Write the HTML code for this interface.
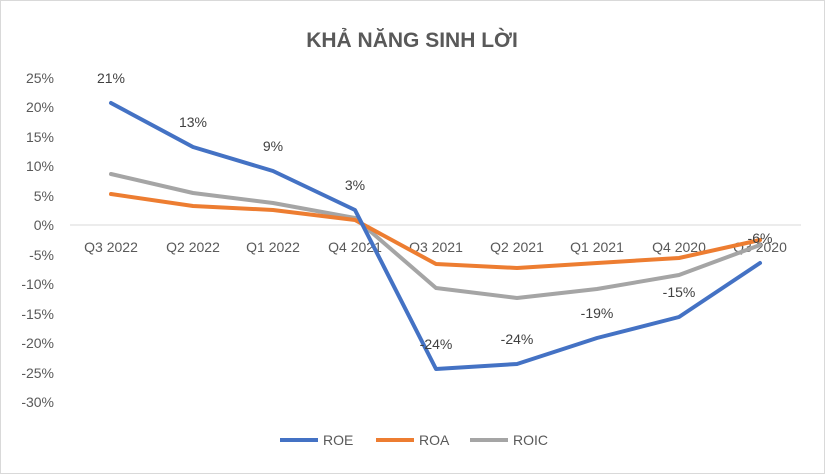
<!DOCTYPE html>
<html><head><meta charset="utf-8"><style>
body{margin:0;background:#fff}
svg{display:block;font-family:"Liberation Sans",Arial,sans-serif}
</style></head><body>
<svg width="825" height="474" viewBox="0 0 825 474" xmlns="http://www.w3.org/2000/svg">
<rect x="0.5" y="0.5" width="824" height="473" fill="#fff" stroke="#d9d9d9"/>
<text x="412" y="47" text-anchor="middle" font-size="21" font-weight="bold" fill="#595959">KHẢ NĂNG SINH LỜI</text>
<g font-size="14" fill="#595959" text-anchor="end">
<text x="54" y="83">25%</text><text x="54" y="112">20%</text><text x="54" y="142">15%</text><text x="54" y="171">10%</text><text x="54" y="201">5%</text><text x="54" y="230">0%</text><text x="54" y="260">-5%</text><text x="54" y="289">-10%</text><text x="54" y="319">-15%</text><text x="54" y="348">-20%</text><text x="54" y="378">-25%</text><text x="54" y="407">-30%</text>
</g>
<line x1="70" y1="225" x2="801" y2="225" stroke="#d9d9d9"/>
<g font-size="14" fill="#595959" text-anchor="middle">
<text x="111" y="252">Q3 2022</text><text x="193" y="252">Q2 2022</text><text x="273" y="252">Q1 2022</text><text x="355" y="252">Q4 2021</text><text x="436" y="252">Q3 2021</text><text x="517" y="252">Q2 2021</text><text x="597" y="252">Q1 2021</text><text x="679" y="252">Q4 2020</text><text x="760" y="252">Q3 2020</text>
</g>
<g fill="none" stroke-width="4" stroke-linejoin="round" stroke-linecap="round">
<polyline stroke="#a5a5a5" points="111,174 193,193 273,203 355,218 436,288 517,298 597,289 679,275 760,245"/>
<polyline stroke="#ed7d31" points="111,194 193,206 273,210 355,220 436,264 517,268 597,263 679,258 760,240"/>
<polyline stroke="#4472c4" points="111,103 193,147 273,171 355,210 436,369 517,364 597,338 679,317 760,263"/>
</g>
<g font-size="14" fill="#404040" text-anchor="middle">
<text x="111" y="83">21%</text><text x="193" y="127">13%</text><text x="273" y="151">9%</text><text x="355" y="190">3%</text><text x="436" y="349">-24%</text><text x="517" y="344">-24%</text><text x="597" y="318">-19%</text><text x="679" y="297">-15%</text><text x="760" y="243">-6%</text>
</g>
<g font-size="14" fill="#595959">
<line x1="280" y1="440" x2="318" y2="440" stroke="#4472c4" stroke-width="4"/><text x="323" y="445">ROE</text>
<line x1="376" y1="440" x2="414" y2="440" stroke="#ed7d31" stroke-width="4"/><text x="419" y="445">ROA</text>
<line x1="470" y1="440" x2="508" y2="440" stroke="#a5a5a5" stroke-width="4"/><text x="513" y="445">ROIC</text>
</g>
</svg>
</body></html>
